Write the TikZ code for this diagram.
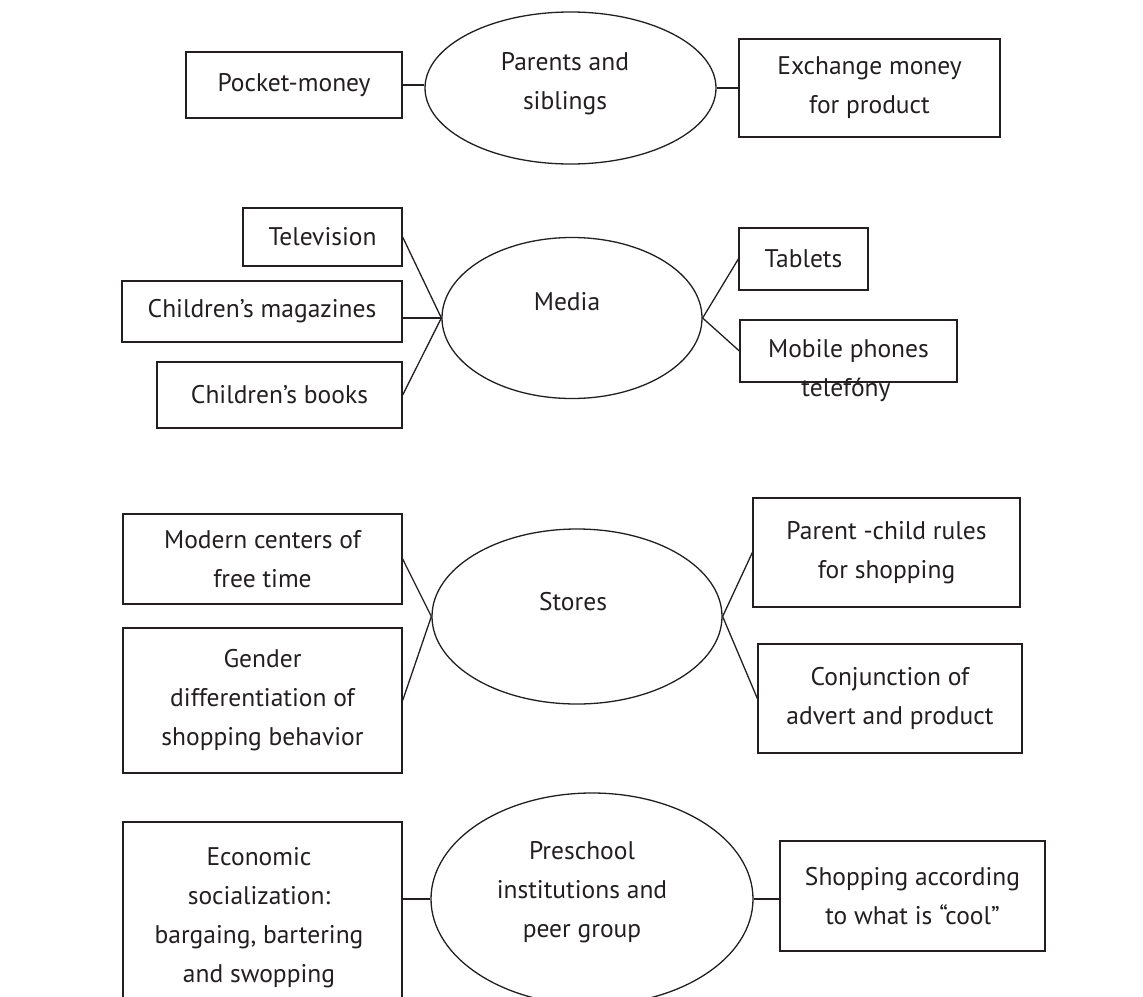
\documentclass[tikz,border=0pt]{standalone}
\usepackage{fontspec}
\setmainfont{PT Sans}
\usetikzlibrary{shapes.geometric}
\definecolor{ink}{HTML}{231F20}
\begin{document}
\begin{tikzpicture}[x=1pt,y=-1pt,
  every node/.style={font=\fontsize{25.5}{39}\selectfont, text=ink},
  box/.style={draw=ink, line width=1.3pt, rectangle, inner sep=0pt, align=center},
  oval/.style={draw=ink, line width=1.3pt, ellipse, inner sep=0pt},
  txt/.style={inner sep=0pt, align=center},
  link/.style={draw=ink, line width=1.3pt}]
\useasboundingbox (0,0) rectangle (1143,996);
\clip (0,0) rectangle (1143,996);
% row 1
\node[oval, minimum width=291pt, minimum height=152pt] (parents) at (570.5,88) {};
\node[txt] (parentst) at (565,84) {Parents and\\siblings};
\node[box, minimum width=216pt, minimum height=66pt] (pocket) at (294,85) {Pocket-money};
\node[box, minimum width=261pt, minimum height=98pt] (exchange) at (869.5,88) {Exchange money\\for product};
% row 2
\node[oval, minimum width=260pt, minimum height=161pt] (media) at (572,318) {};
\node[txt] (mediat) at (567,302) {Media};
\node[box, minimum width=159pt, minimum height=58pt] (tv) at (322.5,237) {Television};
\node[box, minimum width=280pt, minimum height=61pt] (mag) at (262,311.5) {Children’s magazines};
\node[box, minimum width=245pt, minimum height=66pt] (books) at (279.5,395) {Children’s books};
\node[box, minimum width=129pt, minimum height=62pt] (tablets) at (803.5,259) {Tablets};
\node[box, minimum width=217pt, minimum height=62pt] (mobile) at (848.5,351) {Mobile phones};
\node[txt, anchor=base] (telefony) at (846,396) {telefóny};
% row 3
\node[oval, minimum width=290pt, minimum height=175pt] (stores) at (577,616.5) {};
\node[txt] (storest) at (573,602) {Stores};
\node[box, minimum width=279pt, minimum height=90pt] (modern) at (262.5,559) {Modern centers of\\free time};
\node[box, minimum width=279pt, minimum height=145pt] (gender) at (262.5,700.5) {Gender\\differentiation of\\shopping behavior};
\node[box, minimum width=267pt, minimum height=109pt] (parentchild) at (886.5,552.5) {Parent -child rules\\for shopping};
\node[box, minimum width=264pt, minimum height=109pt] (conj) at (890,698.5) {Conjunction of\\advert and product};
% row 4
\node[oval, minimum width=322pt, minimum height=212pt] (preschool) at (592,899) {};
\node[txt] (preschoolt) at (582,892) {Preschool\\institutions and\\peer group};
\node[box, minimum width=279pt, minimum height=218pt] (economic) at (262.5,931) {};
\node[txt] (economict) at (259,918) {Economic\\socialization:\\bargaing, bartering\\and swopping};
\node[box, minimum width=265pt, minimum height=110pt] (shopping) at (912.5,896) {Shopping according\\to what is “cool”};
% connectors
\draw[link] (pocket.east) -- (pocket.east -| parents.west);
\draw[link] (parents.east) -- (parents.east -| exchange.west);
\draw[link] (tv.east) -- (media.west);
\draw[link] (mag.east |- media.west) -- (media.west);
\draw[link] (books.east) -- (media.west);
\draw[link] (media.east) -- (tablets.west);
\draw[link] (media.east) -- (mobile.west);
\draw[link] (modern.east) -- (stores.west);
\draw[link] (gender.east) -- (stores.west);
\draw[link] (stores.east) -- (parentchild.west);
\draw[link] (stores.east) -- (conj.west);
\draw[link] (economic.east |- preschool.west) -- (preschool.west);
\draw[link] (preschool.east) -- (preschool.east -| shopping.west);
\end{tikzpicture}
\end{document}
